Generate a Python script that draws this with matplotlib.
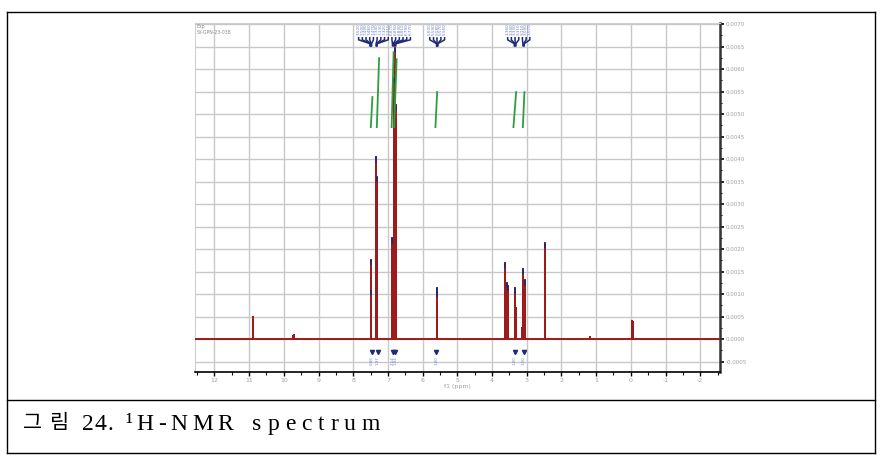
import numpy as np
import matplotlib.pyplot as plt
from matplotlib.ticker import MultipleLocator
from matplotlib.lines import Line2D

# peak list (ppm, intensity)
peak_ppm = [10.876, 9.74, 9.72, 9.70, 7.50, 7.48, 7.335, 7.315, 6.870, 6.827, 6.793, 6.755,
            5.595, 5.575, 3.622, 3.573, 3.527, 3.334, 3.297, 3.141, 3.095, 3.055, 2.470,
            1.173, -0.040, -0.058]
peak_height = [0.00050, 0.00007, 0.00010, 0.00007, 0.00109, 0.00176, 0.00404, 0.00360,
               0.00224, 0.00580, 0.00647, 0.00520, 0.00113, 0.00105, 0.00169, 0.00125,
               0.00118, 0.00113, 0.00069, 0.00024, 0.00156, 0.00131, 0.00214, 0.00004,
               0.00041, 0.00038]

# integral regions
int_start = [7.493, 7.320, 6.893, 6.821, 5.631, 3.383, 3.112]
int_end = [7.447, 7.254, 6.836, 6.749, 5.582, 3.305, 3.066]
int_value = [0.86, 1.97, 2.14, 1.94, 1.00, 1.00, 1.00]

# picked peak labels at the top
label_groups = [
    [7.52, 7.50, 7.49, 7.48, 7.47, 7.34, 7.33, 7.32, 7.31],
    [6.87, 6.85, 6.83, 6.81, 6.79, 6.77],
    [5.60, 5.59, 5.58, 5.57, 5.56],
    [3.36, 3.34, 3.33, 3.31, 3.11, 3.09, 3.07],
]

x_ticks = list(range(-2, 13))
y_ticks = [-0.0005, 0.0, 0.0005, 0.0010, 0.0015, 0.0020, 0.0025, 0.0030, 0.0035,
           0.0040, 0.0045, 0.0050, 0.0055, 0.0060, 0.0065, 0.0070]

caption_words = ["그림", "24.", "¹H-NMR", "spectrum"]

W, H = 882, 461
fig = plt.figure(figsize=(W / 100, H / 100), dpi=100)
ax = fig.add_axes([195 / W, 1 - 372 / H, (720 - 195) / W, (372 - 22.7) / H])

red = '#9e1b1b'
navy = '#1f2a7a'
lblue = '#6f7fd0'
green = '#2e9e3e'

# spectrum trace built from the peak list
order = np.argsort(peak_ppm)[::-1]
xs, ys = [12.6], [0.0]
for i in order:
    xs += [peak_ppm[i]] * 3
    ys += [0.0, peak_height[i], 0.0]
xs.append(-2.6)
ys.append(0.0)
ax.plot(xs, ys, color=red, lw=1.4, zorder=3)

big = [i for i in range(len(peak_ppm)) if peak_height[i] > 0.0008]
ax.vlines([peak_ppm[i] for i in big], [peak_height[i] - 0.00012 for i in big],
          [peak_height[i] for i in big], color=navy, lw=1.3, zorder=4)

# integrals
unit = 0.000778
base = 0.00471
for s, e, v in zip(int_start, int_end, int_value):
    ax.plot([s, e], [base, base + v * unit], color=green, lw=1.3, zorder=4)
    mid = (s + e) / 2
    ax.plot(mid, -0.00028, marker='v', ms=3, color=navy, zorder=4)
    ax.text(mid, -0.00038, f"{v:.2f}", rotation=90, fontsize=2.8, color=lblue,
            ha='center', va='top')

# peak labels with connector lines
tr = ax.get_xaxis_transform()
sp = 0.1066
prev = None
for grp in label_groups:
    n = len(grp)
    start = np.mean(grp) + (n - 1) / 2 * sp
    if prev is not None and start > prev - sp:
        start = prev - sp
    for k, p in enumerate(grp):
        lx = start - k * sp
        ax.text(lx, 0.997, f"{p:.3f}", rotation=90, fontsize=3.0, color=lblue,
                ha='center', va='top', transform=tr)
        ax.plot([lx, lx, p, p], [0.957, 0.951, 0.940, 0.934], color=navy, lw=1.1,
                transform=tr, clip_on=False)
    prev = start - (n - 1) * sp

ax.text(0.003, 0.995, "Exp\nSY-GPN-23-038", transform=ax.transAxes, fontsize=3.3,
        color='#8a8a8a', va='top', ha='left')

ax.set_xlim(12.56, -2.57)
ax.set_ylim(-0.00073, 0.00703)
ax.set_xticks(x_ticks)
ax.set_xticklabels([str(t) for t in x_ticks])
ax.xaxis.set_minor_locator(MultipleLocator(0.5))
ax.yaxis.tick_right()
ax.set_yticks(y_ticks)
ax.set_yticklabels([f"{t:.4f}" for t in y_ticks])
ax.yaxis.set_minor_locator(MultipleLocator(0.00025))
ax.grid(True, color='#c8c8c8', lw=1.0, zorder=0)
ax.set_axisbelow(True)
ax.tick_params(axis='x', which='major', length=3, width=1, labelsize=4.5,
               labelcolor='#a0a0a0', pad=1)
ax.tick_params(axis='x', which='minor', length=2, width=0.8)
ax.tick_params(axis='y', which='major', length=3, width=1.2, labelsize=4,
               labelcolor='#a0a0a0', pad=1)
ax.tick_params(axis='y', which='minor', length=1.5, width=0.8)
ax.set_xlabel("f1 (ppm)", fontsize=4.5, color='#a0a0a0', labelpad=1)
for s in ['left', 'top']:
    ax.spines[s].set_color('#d0d0d0')
ax.spines['bottom'].set_linewidth(1.2)
ax.spines['right'].set_color('#333333')
ax.spines['right'].set_linewidth(1.8)


def fx(px):
    return px / W


def fy(py):
    return 1 - py / H


# document frame
for (x0, y0, x1, y1) in [(7, 12, 875, 12), (7, 453, 875, 453), (7, 12, 7, 453),
                         (875, 12, 875, 453), (7, 400, 875, 400)]:
    fig.add_artist(Line2D([fx(x0), fx(x1)], [fy(y0), fy(y1)], color='black', lw=1.0))

# caption, letter-spaced like the source document
fam = ['Liberation Serif', 'Noto Sans CJK KR']
word_span = [(23, 68), (82, 113), (125, 233), (252, 380)]
r = fig.canvas.get_renderer()
for word, (a, b) in zip(caption_words, word_span):
    fs = 15 if word == "그림" else 17
    widths = []
    for ch in word:
        t = fig.text(0, 0, ch, fontsize=fs, family=fam)
        widths.append(t.get_window_extent(renderer=r).width)
        t.remove()
    gap = (b - a - sum(widths)) / max(len(word) - 1, 1)
    x = a
    for ch, w in zip(word, widths):
        fig.text(fx(x), fy(424), ch, fontsize=fs, family=fam, va='center', ha='left')
        x += w + gap

fig.savefig("out.png", dpi=100, facecolor='white')
